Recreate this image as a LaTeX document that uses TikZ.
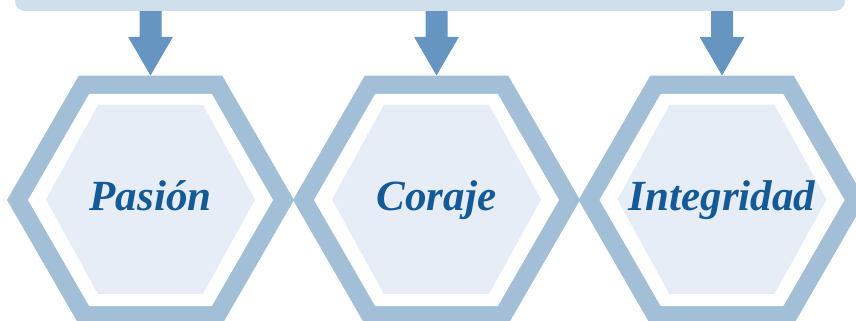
\documentclass[tikz,border=0pt]{standalone}
\usepackage{fontspec}
\setmainfont{Liberation Serif}
\usetikzlibrary{calc}
\definecolor{barc}{HTML}{CFDEEB}
\definecolor{arrowc}{HTML}{6595C0}
\definecolor{ringc}{HTML}{A2BFD7}
\definecolor{innerc}{HTML}{E7EDF6}
\definecolor{textc}{HTML}{135A97}
\tikzset{
  barbox/.style={rectangle, rounded corners=10pt, fill=barc, draw=none, minimum width=830pt, minimum height=40pt, inner sep=0pt},
  lbl/.style={anchor=base, text=textc, font=\fontsize{43}{50}\selectfont\bfseries\itshape, inner sep=0pt},
  ring/.style={fill=ringc},
  gap/.style={fill=white},
  core/.style={fill=innerc},
  blockarrow/.style={fill=arrowc}
}
\begin{document}
\begin{tikzpicture}[x=1pt,y=1pt]
\useasboundingbox (0,0) rectangle (856,321);
\node[barbox] (bar) at (430,330) {};
\foreach \cx/\nm/\txt in {150.5/p/Pasión, 436.5/c/Coraje, 722/i/Integridad} {
  \fill[ring] (\cx-143.5,121) -- ++(71.75,124.27) -- ++(143.5,0) -- ++(71.75,-124.27) -- ++(-71.75,-124.27) -- ++(-143.5,0) -- cycle;
  \fill[gap] (\cx-122.5,121) -- ++(61.25,106.09) -- ++(122.5,0) -- ++(61.25,-106.09) -- ++(-61.25,-106.09) -- ++(-122.5,0) -- cycle;
  \fill[core] (\cx-104.5,121.5) -- ++(52,94.5) -- ++(105,0) -- ++(52,-94.5) -- ++(-52,-94.5) -- ++(-105,0) -- cycle;
  \node[lbl] (\nm) at (\cx,110) {\txt};
  \coordinate (\nm top) at (\cx,245.5);
  \path (bar.south -| \nm top) coordinate (\nm src);
  \fill[blockarrow] ($(\nm src)+(-11,0)$) -- ($(\nm top)+(-11,38.7)$) -- ($(\nm top)+(-22.5,38.7)$) -- (\nm top) -- ($(\nm top)+(22.5,38.7)$) -- ($(\nm top)+(11,38.7)$) -- ($(\nm src)+(11,0)$) -- cycle;
}
\end{tikzpicture}
\end{document}
